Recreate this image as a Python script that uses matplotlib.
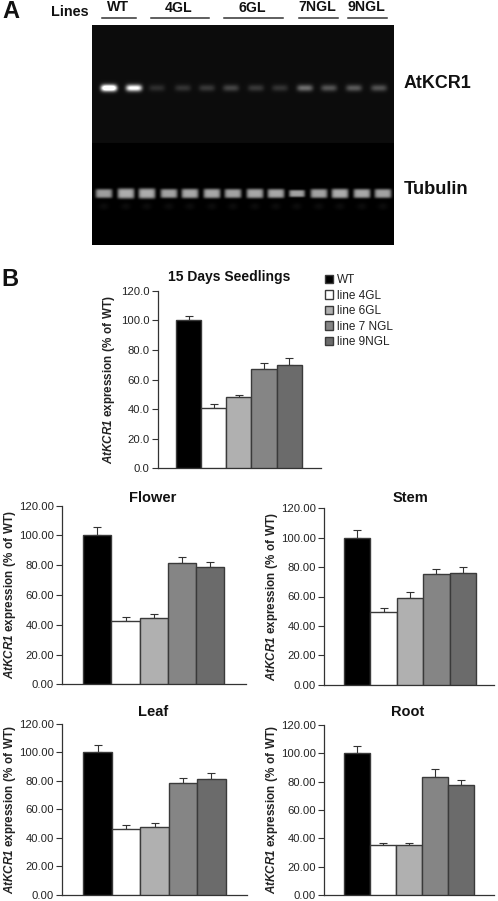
import numpy as np
import matplotlib
matplotlib.use('Agg')
import matplotlib.pyplot as plt

plt.rcParams['font.family'] = ['Liberation Sans', 'DejaVu Sans']
plt.rcParams['mathtext.fontset'] = 'custom'
plt.rcParams['mathtext.bfit'] = 'Liberation Sans:italic:bold'
plt.rcParams['mathtext.bf'] = 'Liberation Sans:bold'

W, H = 498, 901

lines = ['WT', 'line 4GL', 'line 6GL', 'line 7 NGL', 'line 9NGL']
colors = ['#000000', '#ffffff', '#b0b0b0', '#858585', '#6b6b6b']

seedlings = [100, 41, 48.5, 67, 69.5]
seedlings_err = [2.7, 2.5, 1.3, 4.3, 5]
flower = [100, 42.5, 44.5, 81.5, 78.5]
flower_err = [5.5, 2.8, 2.5, 4.3, 3.5]
stem = [100, 49.5, 59, 75, 76.3]
stem_err = [5, 3, 4.2, 3.7, 3.7]
leaf = [100, 46.5, 47.5, 78.5, 81.5]
leaf_err = [5.3, 2.5, 2.8, 3.7, 3.8]
root = [100, 35, 35, 83, 77.5]
root_err = [5.2, 2, 2, 6, 3.8]

# gel lanes, pixel x of each band and how bright it is
kcr_lanes = [109, 134, 157, 183, 207, 231, 256, 280, 305, 329, 354, 379]
kcr_level = [1.3, 1.0, 0.13, 0.15, 0.17, 0.22, 0.17, 0.15, 0.38, 0.28, 0.3, 0.27]
tub_lanes = [104, 126, 147, 169, 190, 212, 233, 255, 276, 297, 319, 340, 362, 383]
tub_level = [0.62, 0.68, 0.68, 0.64, 0.66, 0.66, 0.64, 0.66, 0.66, 0.64, 0.64, 0.68, 0.66, 0.64]
tub_width = [8.5, 8.5, 8.5, 8.5, 8.5, 8.5, 8.5, 8.5, 8.5, 8, 8.5, 8.5, 8.5, 8.5]
tub_height = [4.6, 5.2, 5.2, 4.6, 4.8, 4.8, 4.6, 4.8, 4.6, 3.6, 4.6, 4.8, 4.6, 4.6]

group_names = ['WT', '4GL', '6GL', '7NGL', '9NGL']
group_left = [102, 151, 224, 299, 348]
group_right = [136, 209, 283, 338, 387]
group_text_y = [7, 8, 8, 7, 7]

fig = plt.figure(figsize=(W / 100, H / 100), dpi=100)


def px_axes(left, right, top, bottom):
    return fig.add_axes([left / W, 1 - bottom / H, (right - left) / W, (bottom - top) / H])


def px_text(x, y, s, **kw):
    kw.setdefault('va', 'center')
    fig.text(x / W, 1 - y / H, s, **kw)


def bar_panel(left, right, top, bottom, bar_left, bar_right, vals, errs, title, title_x, title_y, fmt, pad, title_size=10.5):
    ax = px_axes(left, right, top, bottom)
    step = (bar_right - bar_left) / 5
    x = np.arange(5)
    bars = ax.bar(x, vals, width=1, color=colors, edgecolor='#3a3a3a', linewidth=1, zorder=3)
    ax.errorbar(x, vals, yerr=[np.zeros(5), errs], fmt='none', ecolor='#333333',
                elinewidth=0.8, capsize=3, capthick=0.8, zorder=2)
    ax.set_xlim((left - bar_left) / step - 0.5, (right - bar_left) / step - 0.5)
    ax.set_ylim(0, 120)
    ax.set_yticks(range(0, 121, 20))
    ax.set_yticklabels([fmt % v for v in range(0, 121, 20)], fontsize=8.1, color='#222222')
    ax.set_xticks([])
    ax.tick_params(axis='y', length=4, width=0.8, color='#333333', pad=2)
    for s in ['top', 'right']:
        ax.spines[s].set_visible(False)
    for s in ['left', 'bottom']:
        ax.spines[s].set_color('#333333')
        ax.spines[s].set_linewidth(0.9)
    ax.set_ylabel(r'$\mathbfit{AtKCR1}$ $\mathbf{expression\ (\%\ of\ WT)}$',
                  fontsize=8.4, color='#222222', labelpad=pad)
    px_text(title_x, title_y, title, fontsize=title_size, fontweight='bold', ha='center', color='#111111')
    return bars


# panel A gel
gel_l, gel_r, gel_t, gel_b = 92, 394, 25, 245
split = 143
yy, xx = np.mgrid[gel_t:gel_b, gel_l:gel_r] + 0.5
gel = np.zeros(xx.shape)
gel[yy < split] = 0.05
for cx, lev in zip(kcr_lanes, kcr_level):
    gel += lev * np.exp(-((xx - cx) / 8) ** 4 - ((yy - 88) / 3.4) ** 2)
for cx, lev, wd, ht in zip(tub_lanes, tub_level, tub_width, tub_height):
    gel += lev * np.exp(-((xx - cx) / wd) ** 6 - ((yy - 193.5) / ht) ** 4)
    gel += 0.05 * np.exp(-((xx - cx) / 5) ** 2 - ((yy - 206.5) / 3.5) ** 2)
gax = px_axes(gel_l, gel_r, gel_t, gel_b)
gax.imshow(gel, cmap='gray', vmin=0, vmax=1, aspect='auto', interpolation='bilinear')
gax.axis('off')

px_text(2, 11, 'A', fontsize=17, fontweight='bold', color='#111111')
px_text(51, 12, 'Lines', fontsize=10.4, fontweight='bold', color='#111111')
for name, l, r, ty in zip(group_names, group_left, group_right, group_text_y):
    px_text((l + r) / 2 - 1, ty, name, fontsize=10.2, fontweight='bold', ha='center', color='#111111')
    fig.add_artist(plt.Line2D([l / W, r / W], [1 - 17.7 / H] * 2, color='#333333', lw=1.1))
px_text(404, 84, 'AtKCR1', fontsize=12.9, fontweight='bold', color='#111111')
px_text(404, 189.5, 'Tubulin', fontsize=13.2, fontweight='bold', color='#111111')

# panel B
px_text(1, 279, 'B', fontsize=17, fontweight='bold', color='#111111')
bars = bar_panel(157.7, 320.7, 290.7, 468.3, 176, 301.7, seedlings, seedlings_err,
                 '15 Days Seedlings', 229, 277, '%.1f', 3, title_size=10)
bar_panel(62.3, 245.7, 505.7, 684.3, 83.3, 224, flower, flower_err, 'Flower', 153, 498.5, '%.2f', 1)
bar_panel(324.3, 494.3, 508.3, 684.7, 344, 476, stem, stem_err, 'Stem', 410, 498.5, '%.2f', 1)
bar_panel(62.3, 247, 723.7, 895, 83.3, 225.7, leaf, leaf_err, 'Leaf', 153.5, 712, '%.2f', 1)
bar_panel(324.3, 494, 725, 895, 344, 474, root, root_err, 'Root', 408, 711.5, '%.2f', 1)

fig.legend(bars, lines, loc='upper left', bbox_to_anchor=(324.5 / W, 1 - 274 / H), frameon=False,
           fontsize=8.5, handlelength=0.72, handleheight=0.72, handletextpad=0.3,
           labelspacing=0.3, borderpad=0, borderaxespad=0, labelcolor='#222222')

fig.savefig('out.png', dpi=100)
